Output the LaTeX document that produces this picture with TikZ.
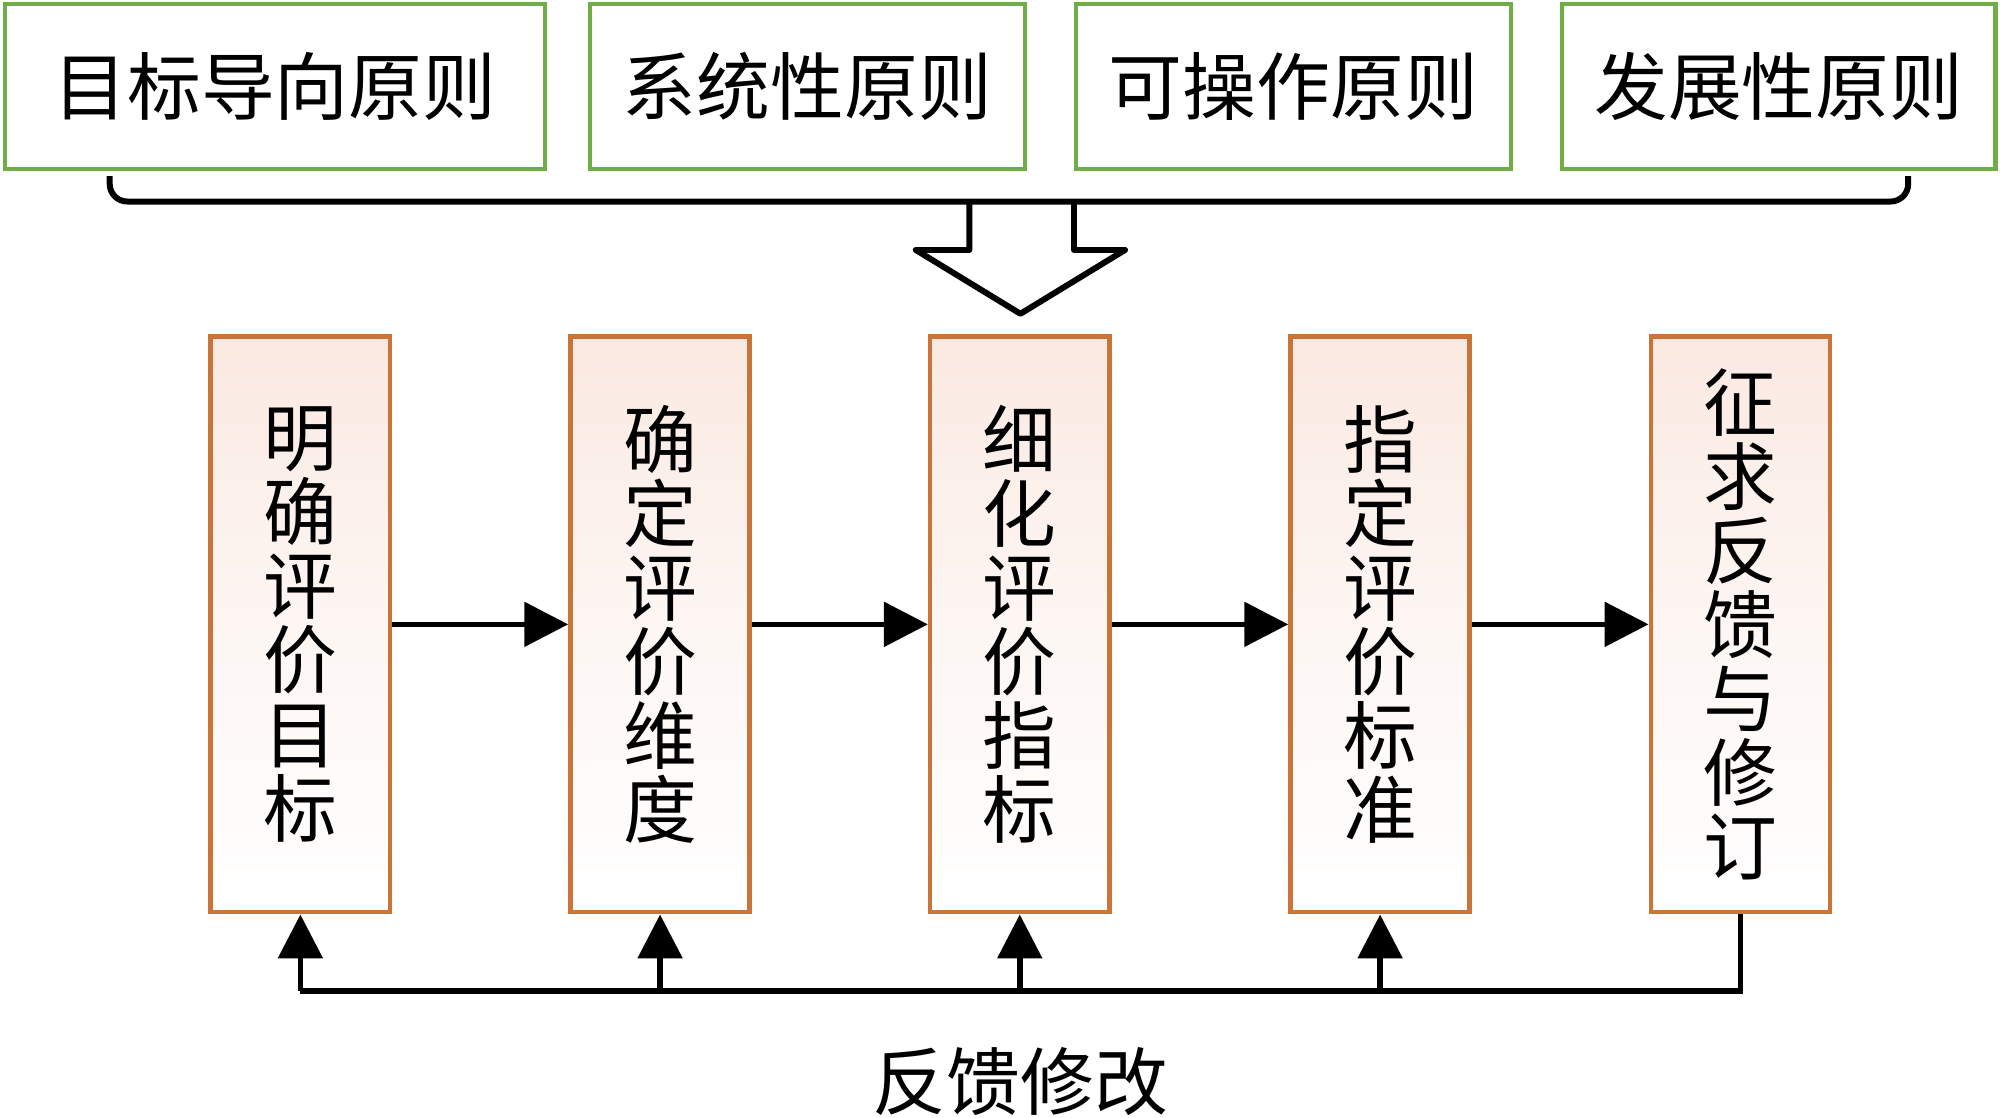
\documentclass[tikz,border=0pt]{standalone}
\usepackage{fontspec}
\newfontfamily\cjk{Noto Sans CJK SC}
\usetikzlibrary{arrows.meta}
\definecolor{gborder}{RGB}{112,173,71}
\definecolor{oborder}{RGB}{204,116,56}
\definecolor{pinktop}{RGB}{250,233,225}
\begin{document}
\begin{tikzpicture}[x=0.0127551cm, y=-0.0127551cm,
  cjktext/.style={font=\cjk\fontsize{21}{21.1}\selectfont},
  principle/.style={draw=gborder, line width=1.2pt, fill=white, minimum height=47pt, inner sep=0pt, cjktext},
  stepbox/.style={draw=oborder, line width=1.3pt, top color=pinktop, bottom color=white, middle color=white!60!pinktop,
     minimum width=51pt, minimum height=163.8pt, inner sep=0pt, align=center, cjktext},
  flow/.style={line width=1.6pt, -{Triangle[length=12.5pt, width=12.5pt]}},
  plain/.style={line width=1.6pt},
  bracel/.style={line width=1.7pt, line join=round}]
\useasboundingbox (0,0) rectangle (1568,876.5);

% principles
\node[principle, minimum width=153.7pt] (p1) at (215.5,68) {目标导向原则};
\node[principle, minimum width=123.7pt] (p2) at (633,68) {系统性原则};
\node[principle, minimum width=123.7pt] (p3) at (1014,68) {可操作原则};
\node[principle, minimum width=123.3pt] (p4) at (1394.5,68) {发展性原则};

% brace under principles
\draw[bracel, rounded corners=5pt] (86,138) -- (86,158) -- (1496,158) -- (1496,138);
% hollow arrow
\draw[bracel] (760,158) -- (760,196) -- (718,196) -- (800,246) -- (882,196) -- (842,196) -- (842,158);

% steps
\node[stepbox] (b1) at (235.5,489.5) {明\\确\\评\\价\\目\\标};
\node[stepbox] (b2) at (517.5,489.5) {确\\定\\评\\价\\维\\度};
\node[stepbox] (b3) at (799.5,489.5) {细\\化\\评\\价\\指\\标};
\node[stepbox] (b4) at (1082,489.5) {指\\定\\评\\价\\标\\准};
\node[stepbox] (b5) at (1364.5,489.5) {征\\求\\反\\馈\\与\\修\\订};

\draw[flow] (b1.east) -- (b2.west);
\draw[flow] (b2.east) -- (b3.west);
\draw[flow] (b3.east) -- (b4.west);
\draw[flow] (b4.east) -- (b5.west);

% feedback loop
\coordinate (fl) at (235.5,777);
\coordinate (f1) at (b1.south |- fl);
\coordinate (f2) at (b2.south |- fl);
\coordinate (f3) at (b3.south |- fl);
\coordinate (f4) at (b4.south |- fl);
\draw[plain] (b5.south) |- (f1);
\draw[flow] (f1) -- (b1.south);
\draw[flow] (f2) -- (b2.south);
\draw[flow] (f3) -- (b3.south);
\draw[flow] (f4) -- (b4.south);

\node[cjktext] (fb) at (800,848) {反馈修改};
\end{tikzpicture}
\end{document}
